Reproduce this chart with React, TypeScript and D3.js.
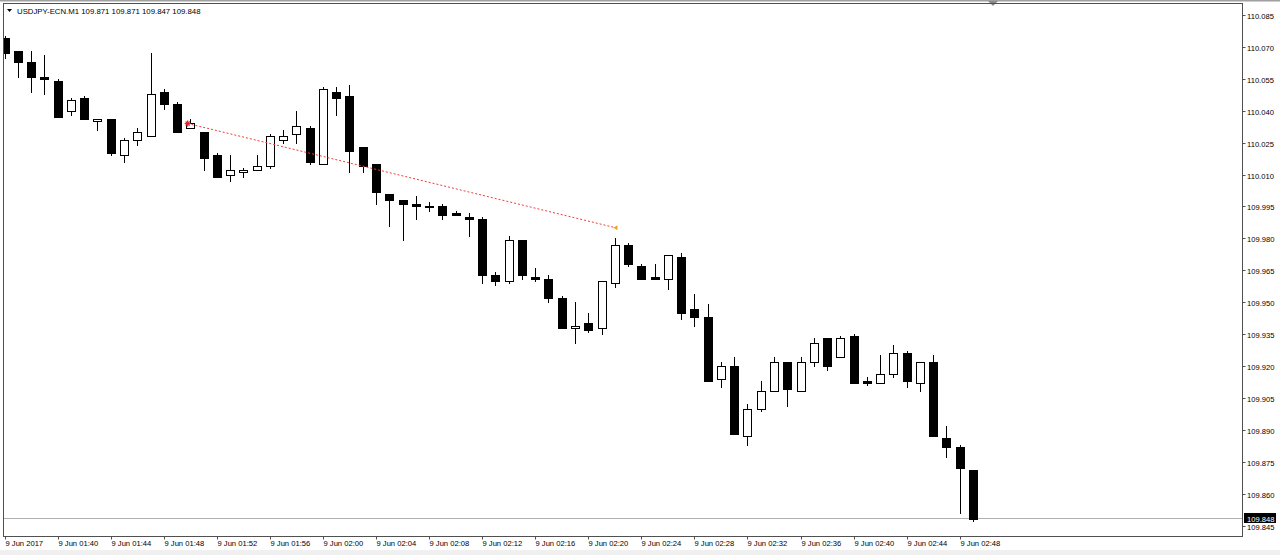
import React from "react";
import * as d3 from "d3";

const W = 1280;
const H = 555;

const symbolTitle = "USDJPY-ECN.M1";
const titleOHLC = "109.871 109.871 109.847 109.848";

// one-minute bars from 01:36 to 02:49
const opens = [
  110.074, 110.068, 110.063, 110.056, 110.054, 110.040, 110.046, 110.035, 110.036, 110.019,
  110.026, 110.028, 110.049, 110.043, 110.032, 110.030, 110.019, 110.010, 110.011, 110.012,
  110.014, 110.026, 110.029, 110.032, 110.015, 110.049, 110.047, 110.023, 110.015, 110.001,
  109.998, 109.996, 109.995, 109.995, 109.992, 109.990, 109.989, 109.963, 109.960, 109.979,
  109.962, 109.961, 109.952, 109.938, 109.940, 109.938, 109.959, 109.977, 109.967, 109.962,
  109.961, 109.971, 109.947, 109.943, 109.914, 109.920, 109.887, 109.900, 109.908, 109.922,
  109.908, 109.922, 109.933, 109.924, 109.934, 109.913, 109.912, 109.916, 109.926, 109.912,
  109.922, 109.886, 109.882, 109.871,
];
const highs = [
  110.075, 110.068, 110.068, 110.066, 110.055, 110.046, 110.047, 110.036, 110.036, 110.027,
  110.032, 110.067, 110.050, 110.044, 110.036, 110.030, 110.020, 110.019, 110.013, 110.019,
  110.029, 110.031, 110.040, 110.033, 110.051, 110.051, 110.052, 110.023, 110.015, 110.001,
  109.998, 110.000, 109.997, 109.996, 109.993, 109.992, 109.990, 109.964, 109.981, 109.979,
  109.966, 109.963, 109.953, 109.950, 109.945, 109.960, 109.980, 109.978, 109.968, 109.968,
  109.972, 109.973, 109.954, 109.949, 109.922, 109.924, 109.902, 109.913, 109.924, 109.922,
  109.924, 109.933, 109.933, 109.934, 109.935, 109.915, 109.925, 109.930, 109.927, 109.922,
  109.925, 109.892, 109.883, 109.871,
];
const lows = [
  110.065, 110.056, 110.049, 110.048, 110.037, 110.038, 110.036, 110.031, 110.019, 110.016,
  110.024, 110.028, 110.041, 110.030, 110.032, 110.012, 110.009, 110.007, 110.009, 110.012,
  110.013, 110.025, 110.025, 110.015, 110.015, 110.038, 110.011, 110.011, 109.996, 109.986,
  109.979, 109.989, 109.993, 109.989, 109.991, 109.981, 109.959, 109.958, 109.959, 109.961,
  109.960, 109.950, 109.938, 109.931, 109.936, 109.935, 109.957, 109.967, 109.961, 109.961,
  109.956, 109.942, 109.939, 109.913, 109.910, 109.888, 109.883, 109.899, 109.908, 109.901,
  109.908, 109.920, 109.918, 109.924, 109.912, 109.911, 109.912, 109.915, 109.910, 109.908,
  109.887, 109.877, 109.851, 109.847,
];
const closes = [
  110.067, 110.063, 110.056, 110.055, 110.037, 110.045, 110.036, 110.036, 110.020, 110.026,
  110.030, 110.048, 110.043, 110.030, 110.034, 110.018, 110.009, 110.012, 110.012, 110.014,
  110.028, 110.028, 110.033, 110.016, 110.050, 110.046, 110.021, 110.014, 110.002, 109.998,
  109.996, 109.995, 109.995, 109.991, 109.991, 109.989, 109.963, 109.960, 109.979, 109.963,
  109.961, 109.952, 109.938, 109.939, 109.937, 109.960, 109.977, 109.968, 109.961, 109.961,
  109.972, 109.945, 109.943, 109.913, 109.920, 109.888, 109.900, 109.908, 109.922, 109.909,
  109.922, 109.931, 109.920, 109.933, 109.912, 109.912, 109.916, 109.926, 109.913, 109.922,
  109.887, 109.882, 109.872, 109.848,
];

const lastPrice = 109.848;

const priceTicks = [
  110.085, 110.07, 110.055, 110.04, 110.025, 110.01, 109.995, 109.98, 109.965,
  109.95, 109.935, 109.92, 109.905, 109.89, 109.875, 109.86, 109.845,
];

const timeTickIndex = [0, 4, 8, 12, 16, 20, 24, 28, 32, 36, 40, 44, 48, 52, 56, 60, 64, 68, 72];
const timeTickLabels = [
  "9 Jun 2017", "9 Jun 01:40", "9 Jun 01:44", "9 Jun 01:48", "9 Jun 01:52", "9 Jun 01:56",
  "9 Jun 02:00", "9 Jun 02:04", "9 Jun 02:08", "9 Jun 02:12", "9 Jun 02:16", "9 Jun 02:20",
  "9 Jun 02:24", "9 Jun 02:28", "9 Jun 02:32", "9 Jun 02:36", "9 Jun 02:40", "9 Jun 02:44",
  "9 Jun 02:48",
];

// trend line anchors (bar index, price)
const trendIdx = [13.8, 46.05];
const trendPrice = [110.034, 109.985];

const FONT = "'Liberation Sans', Arial, sans-serif";

export default function App() {
  const left = 3.5;
  const right = 1242.5;
  const top = 3.5;
  const bottom = 536.5;

  const x = d3.scaleLinear().domain([0, 73]).range([4.6, 4.6 + 73 * 13.265]);
  const y = d3.scaleLinear().domain([109.845, 110.085]).range([525.5, 15]);

  const crisp = (v: number) => Math.round(v) + 0.5;

  const candles = opens.map((o, i) => {
    const c = closes[i];
    const cx = crisp(x(i));
    const yH = Math.round(y(highs[i]));
    const yL = Math.round(y(lows[i]));
    const yO = Math.round(y(o));
    const yC = Math.round(y(c));
    const bull = c > o;
    const bt = Math.min(yO, yC);
    const bb = Math.max(yO, yC);
    return (
      <g key={i}>
        <line x1={cx} x2={cx} y1={yH} y2={yL + 1} stroke="#000" strokeWidth={1} />
        {bull ? (
          <rect x={cx - 4} y={bt + 0.5} width={8} height={Math.max(bb - bt, 1)} fill="#fff" stroke="#000" strokeWidth={1} />
        ) : (
          <rect x={cx - 4.5} y={bt} width={9} height={Math.max(bb - bt + 1, 2)} fill="#000" />
        )}
      </g>
    );
  });

  const yLast = crisp(y(lastPrice) - 1);

  const tx0 = x(trendIdx[0]);
  const ty0 = y(trendPrice[0]);
  const tx1 = x(trendIdx[1]);
  const ty1 = y(trendPrice[1]);

  return (
    <svg
      width={W}
      height={H}
      style={{ position: "absolute", left: 0, top: 0, background: "#fff" }}
      fontFamily={FONT}
    >
      <defs>
        <clipPath id="plot">
          <rect x={left} y={top} width={right - left} height={bottom - top} />
        </clipPath>
      </defs>
      <rect x={0} y={0} width={W} height={H} fill="#fff" />
      <rect x={0} y={0} width={W} height={1.5} fill="#a0a0a0" />
      <rect x={0} y={550} width={W} height={5} fill="#f0f0f0" />
      <path d="M988,1 L998,1 L993,6 Z" fill="#8a8a8a" />

      {/* last price line */}
      <line x1={left} x2={right} y1={yLast} y2={yLast} stroke="#b0b0b0" strokeWidth={1} />

      <g clipPath="url(#plot)">{candles}</g>

      {/* trend line */}
      <line x1={tx0} y1={ty0} x2={tx1} y2={ty1} stroke="#f03c3c" strokeWidth={1} strokeDasharray="2,2" />
      <g stroke="#e8202a" strokeWidth={1.2}>
        <line x1={tx0 - 3} x2={tx0 + 3} y1={ty0} y2={ty0} />
        <line x1={tx0} x2={tx0} y1={ty0 - 3} y2={ty0 + 3} />
        <line x1={tx0 - 2} x2={tx0 + 2} y1={ty0 - 2} y2={ty0 + 2} />
        <line x1={tx0 - 2} x2={tx0 + 2} y1={ty0 + 2} y2={ty0 - 2} />
      </g>
      <path d={`M${tx1 - 2},${ty1} L${tx1 + 2},${ty1 - 2.5} L${tx1 + 2},${ty1 + 2.5} Z`} fill="#f0a020" />

      {/* frame */}
      <rect x={left} y={top} width={right - left} height={bottom - top} fill="none" stroke="#505050" strokeWidth={1} />

      {/* header */}
      <path d="M7,9 L12,9 L9.5,12 Z" fill="#000" />
      <text x={17} y={14} fontSize={7.8} fill="#000">
        {symbolTitle + " " + titleOHLC}
      </text>

      {/* price axis */}
      {priceTicks.map((p, i) => {
        const yy = crisp(y(p));
        return (
          <g key={i}>
            <line x1={right} x2={right + 3} y1={yy} y2={yy} stroke="#505050" />
            <text x={1247} y={yy + 3} fontSize={7.6} fill="#000">
              {p.toFixed(3)}
            </text>
          </g>
        );
      })}
      <rect x={1244} y={yLast - 5.5} width={32} height={10} fill="#000" />
      <text x={1247} y={yLast + 3} fontSize={7.6} fill="#fff">
        {lastPrice.toFixed(3)}
      </text>

      {/* time axis */}
      {timeTickIndex.map((ti, k) => {
        const xx = crisp(x(ti));
        return (
          <g key={k}>
            <line x1={xx} x2={xx} y1={bottom} y2={bottom + 3} stroke="#505050" />
            <text x={xx} y={546} fontSize={7.6} fill="#000">
              {timeTickLabels[k]}
            </text>
          </g>
        );
      })}
    </svg>
  );
}
